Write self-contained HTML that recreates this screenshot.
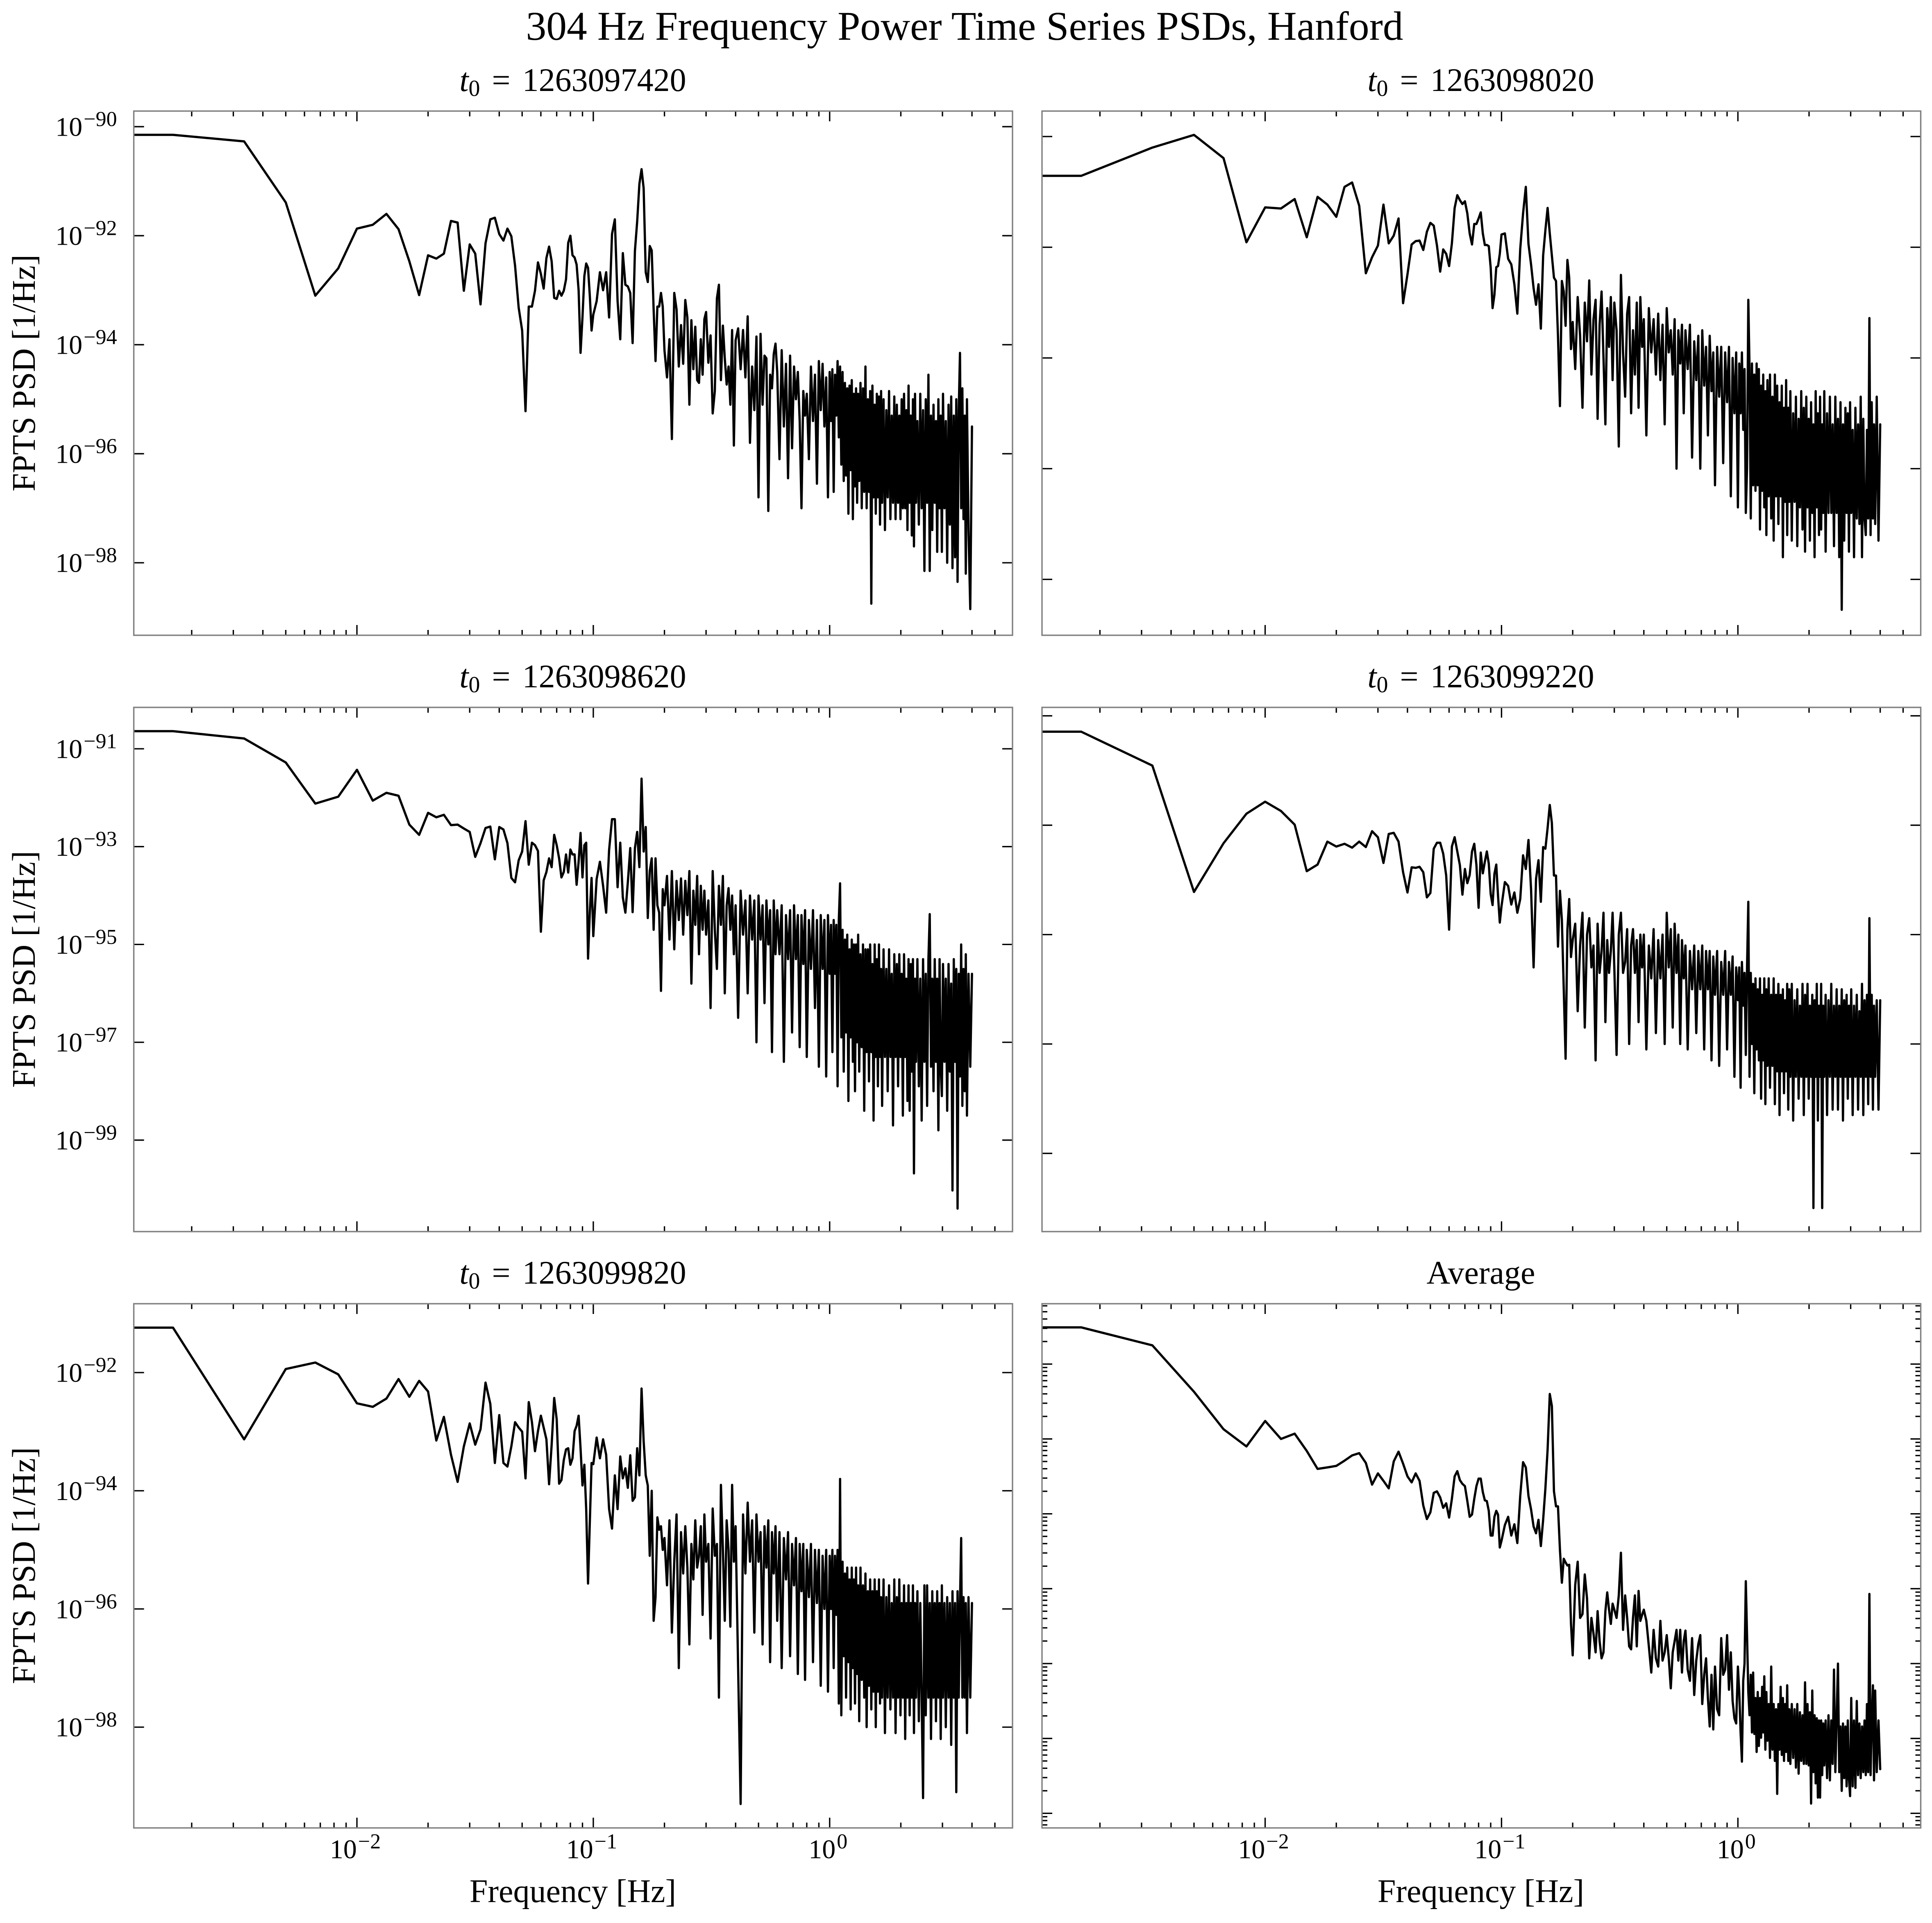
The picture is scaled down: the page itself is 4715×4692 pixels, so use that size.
<!DOCTYPE html>
<html lang="en">
<head>
<meta charset="utf-8">
<title>304 Hz Frequency Power Time Series PSDs, Hanford</title>
<style>
html,body{margin:0;padding:0;background:#fff}
svg{display:block}
text{font-family:"Liberation Serif","DejaVu Serif",serif;fill:#000}
.pt{word-spacing:9px}
</style>
</head>
<body>
<svg id="figure" xmlns="http://www.w3.org/2000/svg" width="4715" height="4692" viewBox="0 0 4715 4692">
<rect x="0" y="0" width="4715" height="4692" fill="#fff"/>
<text x="2354" y="97" font-size="99.6" text-anchor="middle">304 Hz Frequency Power Time Series PSDs, Hanford</text>

<text class="pt" x="1398" y="222" font-size="80" text-anchor="middle" xml:space="preserve"><tspan font-style="italic">t</tspan><tspan font-size="56" dy="12">0</tspan><tspan dy="-12"> = 1263097420</tspan></text>
<text class="pt" x="3614" y="222" font-size="80" text-anchor="middle" xml:space="preserve"><tspan font-style="italic">t</tspan><tspan font-size="56" dy="12">0</tspan><tspan dy="-12"> = 1263098020</tspan></text>
<text class="pt" x="1398" y="1677" font-size="80" text-anchor="middle" xml:space="preserve"><tspan font-style="italic">t</tspan><tspan font-size="56" dy="12">0</tspan><tspan dy="-12"> = 1263098620</tspan></text>
<text class="pt" x="3614" y="1677" font-size="80" text-anchor="middle" xml:space="preserve"><tspan font-style="italic">t</tspan><tspan font-size="56" dy="12">0</tspan><tspan dy="-12"> = 1263099220</tspan></text>
<text class="pt" x="1398" y="3132" font-size="80" text-anchor="middle" xml:space="preserve"><tspan font-style="italic">t</tspan><tspan font-size="56" dy="12">0</tspan><tspan dy="-12"> = 1263099820</tspan></text>
<text x="3614" y="3132" font-size="80" text-anchor="middle">Average</text>

<text transform="translate(85 910) rotate(-90)" font-size="80" text-anchor="middle">FPTS PSD [1/Hz]</text>
<text transform="translate(85 2365) rotate(-90)" font-size="80" text-anchor="middle">FPTS PSD [1/Hz]</text>
<text transform="translate(85 3820) rotate(-90)" font-size="80" text-anchor="middle">FPTS PSD [1/Hz]</text>
<text x="1398" y="4641" font-size="80" text-anchor="middle">Frequency [Hz]</text>
<text x="3614" y="4641" font-size="80" text-anchor="middle">Frequency [Hz]</text>
</svg>
<script>
// Frequency bins (bin number; frequency = bin / segmentSeconds)
const segmentSeconds = 600;
const frequencyBins = [
1,2,3,4,5,6,7,8,9,10,11,12,
13,14,15,16,17,18,19,20,21,22,23,24,
25,26,27,28,29,30,31,32,33,34,35,36,
37,38,39,40,41,42,43,44,45,46,47,48,
49,50,51,52,53,54,55,56,57,58,59,60,
62,64,66,68,70,72,74,76,78,80,82,84,
86,88,90,92,94,96,98,100,102,104,106,108,
110,112,114,116,118,120,123,126,129,132,135,138,
141,144,147,150,153,156,159,162,165,168,171,174,
177,180,184,188,192,196,200,204,208,212,216,220,
224,228,232,236,240,246,252,258,264,270,276,282,
288,294,300,306,312,318,324,330,336,342,348,354,
360,368,376,384,392,400,408,416,424,432,440,448,
456,464,472,480,490,500,510,520,530,540,550,560,
570,580,590,600,608,616,624,632,640,648,656,664,
672,680,688,696,704,712,720,728,736,744,752,760,
768,776,784,792,800,810,820,830,840,850,860,870,
880,890,900,910,920,930,940,950,960,970,980,990,
1000,1014,1028,1042,1056,1070,1084,1098,1112,1126,1140,1154,
1168,1182,1196,1210,1224,1238,1252,1266,1280,1294,1308,1322,
1336,1350,1364,1378,1392,1410,1430,1450,1470,1490,1510,1530,
1550,1570,1590,1610,1630,1650,1670,1690,1710,1730,1750,1770,
1790,1810,1835,1860,1885,1910,1935,1960,1985,2010,2035,2060,
2085,2110,2135,2160,2185,2210,2235,2260,2285,2320,2360,2400];

// log10(PSD) estimates for each panel
const psd1263097420 = [
-90.15,-90.27,-91.39,-93.10,-92.60,-91.87,-91.80,-91.60,-91.88,-92.47,-93.09,-92.36,
-92.42,-92.33,-91.73,-91.76,-93.01,-92.16,-92.33,-93.26,-92.14,-91.70,-91.67,-91.97,
-92.09,-91.87,-92.01,-92.55,-93.32,-93.74,-95.22,-93.30,-93.30,-93.01,-92.49,-92.70,
-92.97,-92.41,-92.20,-92.47,-93.14,-93.16,-93.01,-93.10,-93.01,-92.80,-92.13,-92.00,
-92.36,-92.40,-92.53,-93.0,-94.15,-93.5,-92.74,-92.51,-92.59,-93.1,-93.74,-93.45,
-93.2,-92.67,-93.0,-92.67,-93.5,-91.97,-91.7,-93.2,-93.9,-92.32,-92.9,-92.93,
-93.05,-93.97,-92.28,-91.74,-91.05,-90.78,-91.13,-92.67,-92.85,-92.19,-92.27,-93.36,
-94.3,-93.3,-93.3,-93.05,-93.3,-94.1,-94.6,-93.9,-95.73,-93.05,-93.35,-94.4,
-93.64,-94.35,-93.18,-93.5,-95.1,-93.55,-94.45,-93.67,-94.65,-94.7,-93.9,-94.55,
-93.53,-93.4,-94.33,-93.83,-95.26,-94.85,-93.15,-92.9,-94.65,-93.65,-94.25,-94.73,
-94.4,-95.1,-93.73,-95.85,-93.92,-93.7,-94.45,-93.73,-94.6,-93.48,-95.8,-94.4,
-95.2,-93.85,-96.8,-93.8,-95.1,-94.2,-94.25,-97.05,-94.55,-94.8,-94.17,-93.98,
-94.5,-96.1,-94.1,-95.5,-94.35,-96.45,-94.2,-95.9,-94.4,-95.0,-94.5,-95.4,
-97.0,-94.85,-95.3,-94.9,-96.1,-94.4,-95.4,-94.55,-96.55,-94.3,-95.2,-94.35,
-95.5,-94.6,-96.8,-94.5,-95.4,-94.45,-96.7,-94.55,-95.3,-94.3,-95.7,-94.4,
-96.2,-94.5,-96.5,-94.7,-96.4,-94.8,-97.1,-94.75,-96.3,-94.65,-97.2,-94.9,
-96.6,-94.8,-96.9,-94.9,-96.5,-94.7,-97.0,-94.8,-96.7,-94.4,-97.0,-95.0,
-96.7,-94.85,-98.75,-94.75,-96.8,-95.1,-97.1,-94.9,-96.8,-94.95,-97.3,-94.85,
-96.9,-95.0,-97.4,-95.2,-96.8,-94.85,-97.2,-95.3,-96.9,-94.95,-97.2,-95.1,
-96.9,-95.3,-97.2,-95.0,-97.0,-94.9,-97.0,-95.2,-97.4,-94.75,-96.9,-95.3,
-97.5,-95.0,-97.7,-94.9,-96.9,-95.4,-97.3,-94.9,-97.0,-95.2,-98.15,-95.0,
-96.9,-94.55,-98.15,-95.3,-97.4,-95.1,-96.9,-95.4,-97.8,-95.0,-97.0,-95.3,
-97.8,-94.9,-97.0,-95.4,-98.0,-95.1,-97.3,-94.95,-98.1,-95.3,-97.9,-95.0,
-98.35,-95.2,-94.15,-97.0,-94.8,-97.2,-95.3,-98.2,-95.0,-97.4,-98.85,-95.5];

const psd1263098020 = [
-90.71,-90.2,-89.97,-90.39,-91.91,-91.28,-91.30,-91.13,-91.82,-91.09,-91.23,-91.45,
-90.91,-90.83,-91.25,-92.47,-92.18,-91.97,-91.23,-91.93,-91.79,-91.48,-93.01,-92.49,
-91.95,-91.89,-91.88,-92.05,-91.72,-91.56,-91.61,-91.97,-92.44,-92.04,-92.12,-92.34,
-91.93,-91.29,-91.06,-91.15,-91.22,-91.17,-91.39,-91.75,-91.95,-91.58,-91.58,-91.48,
-91.37,-91.75,-91.96,-91.96,-91.98,-92.37,-93.1,-92.86,-92.36,-92.34,-92.12,-91.77,
-91.75,-92.21,-92.31,-92.67,-93.2,-92.03,-91.39,-90.91,-91.94,-92.31,-92.74,-93.04,
-92.67,-93.47,-92.15,-91.69,-91.29,-91.75,-92.15,-92.55,-92.61,-93.6,-94.87,-92.61,
-92.8,-93.42,-92.23,-92.55,-93.84,-93.35,-94.2,-92.9,-93.6,-94.9,-93.0,-93.7,
-92.6,-94.3,-93.3,-92.95,-95.1,-93.4,-92.8,-94.0,-95.2,-93.1,-93.8,-92.9,
-94.4,-93.0,-93.5,-95.6,-92.5,-93.9,-94.7,-93.2,-92.9,-95.0,-93.5,-94.3,
-93.0,-94.9,-92.9,-93.8,-93.3,-95.4,-93.1,-93.9,-93.3,-94.3,-93.2,-94.4,
-93.4,-95.2,-93.1,-93.9,-93.5,-94.3,-93.3,-96.0,-93.5,-94.1,-93.4,-95.0,
-93.5,-94.2,-93.4,-95.8,-93.7,-94.4,-93.6,-96.0,-93.5,-94.5,-93.8,-95.4,
-93.6,-94.6,-93.9,-96.3,-93.8,-94.7,-93.8,-95.9,-93.9,-94.8,-93.8,-96.5,
-94.0,-95.0,-93.9,-96.7,-94.1,-95.0,-93.9,-95.3,-94.2,-96.8,-96.0,-92.95,
-94.2,-96.9,-94.1,-96.3,-94.3,-96.4,-94.1,-96.3,-94.2,-97.1,-94.5,-96.4,
-94.3,-96.7,-94.6,-97.2,-94.4,-96.5,-94.3,-96.9,-94.7,-97.3,-94.3,-96.5,
-94.5,-97.0,-94.8,-96.5,-94.5,-97.6,-94.9,-96.6,-94.4,-97.2,-94.9,-96.6,
-94.6,-97.3,-95.0,-96.6,-94.7,-97.4,-95.1,-96.7,-94.6,-97.1,-94.9,-97.5,
-94.7,-96.7,-95.1,-97.3,-94.8,-96.8,-95.2,-97.6,-94.6,-96.7,-95.0,-97.2,
-94.7,-97.1,-95.2,-96.8,-94.6,-97.5,-95.0,-96.8,-94.7,-96.8,-95.2,-97.4,
-94.7,-96.8,-95.1,-97.6,-94.8,-98.55,-95.2,-97.3,-94.9,-96.8,-95.0,-97.5,
-94.8,-96.8,-95.3,-97.6,-94.9,-96.9,-95.2,-97.0,-94.7,-97.6,-95.1,-96.9,
-97.2,-95.3,-96.9,-93.28,-97.2,-94.8,-96.9,-95.2,-97.0,-94.7,-97.3,-95.2];

const psd1263098620 = [
-90.64,-90.79,-91.28,-92.12,-91.98,-91.43,-92.06,-91.9,-91.96,-92.55,-92.76,-92.31,
-92.4,-92.35,-92.56,-92.55,-92.63,-92.7,-93.21,-92.93,-92.62,-92.59,-93.26,-92.6,
-92.65,-92.93,-93.64,-93.73,-93.28,-93.1,-92.48,-93.37,-92.92,-92.97,-93.09,-94.74,
-93.69,-93.52,-93.24,-93.42,-92.76,-92.97,-93.24,-93.63,-93.52,-93.16,-93.53,-93.06,
-93.16,-93.16,-93.78,-93.31,-92.72,-93.63,-92.97,-92.92,-95.29,-94.35,-93.64,-94.83,
-93.66,-93.31,-93.8,-94.35,-93.07,-92.44,-92.44,-93.83,-92.92,-94.04,-94.35,-93.73,
-93.03,-94.34,-93.03,-92.7,-93.42,-91.61,-93.1,-92.6,-94.46,-93.5,-93.24,-94.7,
-93.24,-94.2,-94.35,-95.95,-93.87,-94.2,-93.6,-94.9,-93.5,-95.1,-93.7,-94.5,
-93.65,-94.8,-93.7,-94.4,-93.5,-95.8,-93.9,-94.6,-93.6,-95.2,-93.8,-94.7,
-93.9,-94.8,-94.1,-96.3,-93.5,-94.7,-95.5,-93.8,-94.6,-93.6,-96.0,-94.2,
-93.85,-94.7,-94.0,-95.2,-94.2,-96.5,-93.9,-94.8,-94.1,-96.0,-94.0,-94.9,
-94.1,-97.0,-94.0,-94.9,-94.2,-96.2,-94.1,-95.0,-94.3,-97.2,-94.1,-95.2,
-94.3,-95.2,-94.2,-97.4,-94.4,-95.3,-94.3,-96.8,-94.2,-95.3,-94.4,-97.1,
-94.4,-95.4,-94.3,-97.3,-94.5,-95.5,-94.3,-96.3,-94.5,-97.5,-94.4,-95.5,
-94.5,-97.7,-94.4,-95.6,-94.6,-97.2,-94.5,-95.6,-94.6,-97.9,-94.5,-93.75,
-96.9,-94.7,-97.6,-94.9,-96.8,-94.8,-98.2,-95.1,-96.9,-94.9,-97.4,-95.0,
-98.0,-95.0,-97.0,-94.8,-97.6,-95.2,-97.1,-95.0,-98.4,-95.1,-97.2,-95.1,
-97.8,-95.0,-97.2,-95.4,-98.6,-95.0,-97.3,-95.3,-97.9,-95.0,-97.3,-95.5,
-98.3,-95.1,-97.3,-95.5,-98.0,-95.1,-97.3,-95.6,-98.7,-95.2,-97.3,-95.4,
-97.9,-95.2,-97.3,-95.6,-98.5,-95.2,-97.3,-95.7,-98.2,-95.3,-98.4,-95.4,
-97.6,-95.3,-99.68,-95.7,-97.4,-95.3,-97.9,-95.7,-98.6,-95.3,-97.4,-95.6,
-98.3,-95.3,-94.38,-97.5,-95.7,-98.0,-95.3,-97.4,-95.7,-98.8,-95.3,-97.5,
-98.1,-95.4,-97.4,-95.7,-98.4,-95.4,-97.6,-95.8,-100.03,-95.3,-97.4,-95.5,
-100.4,-95.6,-97.7,-95.0,-98.3,-95.5,-98.0,-95.2,-98.5,-95.6,-97.5,-95.6];

const psd1263099220 = [
-91.29,-91.91,-94.22,-93.33,-92.79,-92.57,-92.74,-92.99,-93.84,-93.72,-93.3,-93.39,
-93.34,-93.41,-93.3,-93.4,-93.11,-93.22,-93.69,-93.16,-93.14,-93.3,-93.86,-94.23,
-93.77,-93.78,-93.76,-93.86,-94.32,-94.24,-93.43,-93.32,-93.32,-93.52,-93.92,-94.91,
-93.39,-93.22,-93.48,-93.73,-94.27,-93.8,-94.06,-93.91,-93.48,-93.34,-93.73,-94.51,
-93.5,-93.88,-93.67,-93.48,-93.7,-94.26,-94.46,-93.89,-93.72,-94.29,-94.78,-94.48,
-94.04,-94.11,-94.45,-94.23,-94.6,-94.35,-93.55,-93.8,-93.27,-94.17,-95.6,-93.98,
-93.64,-94.4,-93.4,-93.43,-93.05,-92.63,-92.96,-93.92,-93.92,-95.22,-94.2,-94.73,
-96.0,-97.27,-94.91,-94.35,-95.41,-95.1,-94.8,-96.4,-95.2,-94.6,-96.7,-95.0,
-94.7,-95.6,-95.2,-97.3,-94.8,-95.7,-95.3,-94.6,-96.6,-95.1,-95.7,-95.3,
-94.6,-95.6,-97.2,-95.0,-94.6,-95.7,-95.5,-94.9,-97.0,-95.2,-94.9,-95.7,
-95.1,-96.6,-95.0,-95.6,-95.0,-97.1,-95.2,-95.8,-94.9,-96.8,-95.1,-95.8,
-95.0,-97.0,-94.6,-95.6,-94.9,-96.7,-94.8,-95.7,-95.0,-97.0,-95.1,-95.8,
-95.2,-97.1,-95.3,-96.0,-95.2,-96.8,-95.3,-96.0,-95.2,-97.1,-95.3,-96.0,
-95.3,-97.3,-95.4,-96.1,-95.3,-97.4,-95.5,-96.1,-95.3,-97.1,-95.5,-96.1,
-95.4,-97.6,-95.6,-96.2,-95.6,-97.8,-95.5,-96.3,-95.7,-97.2,-95.6,-94.4,
-97.6,-95.7,-97.0,-95.9,-97.9,-95.8,-97.1,-96.0,-97.3,-95.8,-98.0,-96.1,
-97.3,-95.8,-98.1,-96.0,-97.4,-95.8,-97.8,-96.1,-97.4,-95.8,-98.1,-96.1,
-97.5,-95.9,-98.3,-96.1,-97.5,-96.0,-97.9,-96.2,-97.5,-95.9,-98.2,-96.0,
-97.6,-95.9,-98.4,-96.2,-97.6,-96.0,-98.0,-96.3,-97.6,-95.9,-98.3,-96.1,
-97.6,-95.9,-98.0,-96.3,-97.6,-96.1,-100.0,-96.2,-97.6,-95.9,-98.4,-96.3,
-97.6,-95.9,-100.0,-96.3,-97.6,-96.1,-98.3,-96.2,-97.6,-95.9,-98.2,-96.3,
-97.6,-96.0,-98.2,-96.3,-97.6,-96.0,-98.4,-96.2,-97.6,-96.1,-98.0,-96.3,
-97.6,-96.0,-98.3,-96.3,-97.6,-96.1,-98.2,-96.4,-97.6,-95.9,-98.3,-96.2,
-97.6,-96.1,-98.1,-94.7,-97.6,-96.1,-98.2,-96.3,-97.6,-96.2,-98.2,-96.2];

const psd1263099820 = [
-91.24,-93.13,-91.94,-91.83,-92.03,-92.52,-92.58,-92.44,-92.11,-92.41,-92.14,-92.32,
-93.15,-92.75,-93.39,-93.85,-93.25,-92.86,-93.22,-92.96,-92.17,-92.53,-93.53,-92.72,
-93.53,-93.59,-93.25,-92.84,-92.93,-93.0,-93.79,-92.5,-92.84,-93.33,-92.99,-92.73,
-92.93,-93.13,-93.89,-93.22,-92.43,-92.79,-93.88,-93.82,-93.48,-93.3,-93.28,-93.56,
-93.45,-92.99,-92.9,-92.73,-93.28,-93.91,-93.56,-94.31,-95.57,-94.54,-93.53,-93.55,
-93.1,-93.45,-93.13,-93.39,-94.31,-94.64,-93.74,-94.31,-93.42,-93.79,-93.62,-93.95,
-93.4,-94.17,-94.11,-93.28,-93.74,-92.27,-93.16,-93.74,-93.91,-95.1,-94.0,-96.2,
-95.8,-94.45,-94.66,-94.6,-95.0,-94.8,-95.6,-94.5,-96.4,-95.2,-94.4,-97.0,
-94.7,-95.4,-94.6,-95.3,-96.6,-94.9,-95.5,-94.5,-95.3,-95.1,-94.6,-96.1,
-94.4,-95.2,-94.9,-96.5,-94.3,-95.1,-94.9,-97.5,-93.9,-95.0,-96.2,-94.5,
-95.0,-96.3,-93.9,-95.2,-94.6,-97.0,-99.3,-94.4,-95.4,-94.2,-95.2,-94.5,
-96.4,-94.4,-95.2,-94.7,-96.6,-94.6,-95.3,-94.5,-96.9,-94.7,-95.4,-94.6,
-96.2,-94.7,-97.0,-94.8,-95.5,-94.7,-96.8,-94.9,-95.6,-94.8,-97.1,-94.9,
-95.7,-94.9,-97.2,-95.0,-95.8,-94.9,-96.9,-95.0,-95.9,-95.0,-97.3,-95.1,
-96.0,-95.0,-97.4,-95.1,-96.0,-95.0,-97.0,-95.1,-96.1,-95.0,-97.6,-93.8,
-97.8,-95.2,-96.8,-95.4,-97.5,-95.3,-96.9,-95.5,-97.7,-95.3,-97.0,-95.5,
-97.6,-95.3,-97.1,-95.6,-97.9,-95.3,-97.2,-95.6,-97.5,-95.4,-98.0,-95.7,
-97.3,-95.5,-97.7,-95.7,-97.4,-95.5,-98.0,-95.7,-97.4,-95.5,-97.6,-95.8,
-97.5,-95.5,-98.1,-95.8,-97.5,-95.6,-97.7,-95.9,-97.5,-95.5,-98.1,-95.8,
-97.5,-95.5,-97.8,-95.9,-97.5,-95.6,-98.2,-95.9,-97.5,-95.6,-97.8,-95.9,
-97.5,-95.6,-98.1,-95.9,-97.5,-95.7,-97.9,-95.9,-97.5,-99.2,-95.6,-97.8,
-95.6,-97.5,-95.9,-98.2,-95.7,-97.5,-95.9,-97.9,-95.7,-97.5,-95.9,-98.2,
-95.6,-97.5,-95.9,-98.0,-95.8,-97.5,-95.9,-98.3,-95.7,-97.5,-95.9,-99.1,
-95.7,-97.5,-95.9,-94.8,-97.5,-95.8,-97.5,-95.9,-98.1,-95.8,-97.5,-95.9];

const psdAverage = [
-90.51,-90.75,-91.37,-91.87,-92.1,-91.76,-92.0,-91.93,-92.16,-92.4,-92.38,-92.36,
-92.29,-92.22,-92.19,-92.32,-92.61,-92.46,-92.56,-92.66,-92.3,-92.17,-92.33,-92.5,
-92.58,-92.46,-92.56,-92.89,-93.07,-92.98,-92.72,-92.7,-92.78,-92.92,-92.86,-93.05,
-92.8,-92.5,-92.43,-92.55,-92.6,-92.63,-92.83,-93.04,-93.01,-92.8,-92.63,-92.53,
-92.53,-92.71,-92.82,-92.83,-92.96,-93.29,-93.29,-93.04,-92.96,-93.01,-93.45,-93.36,
-93.15,-93.04,-93.29,-93.14,-93.39,-92.76,-92.31,-92.38,-92.76,-92.94,-93.17,-93.26,
-93.08,-93.43,-93.08,-92.66,-92.14,-91.4,-91.56,-92.7,-92.9,-92.9,-93.48,-93.92,
-93.6,-93.65,-93.69,-93.68,-94.46,-94.89,-93.95,-93.64,-94.39,-94.34,-93.81,-94.13,
-94.93,-94.39,-94.6,-94.85,-94.3,-94.7,-94.93,-94.85,-94.3,-94.05,-94.28,-94.47,
-94.2,-94.28,-94.39,-94.09,-93.52,-94.55,-94.09,-94.39,-94.77,-94.81,-94.39,-94.09,
-94.77,-94.03,-94.43,-94.35,-94.28,-94.43,-94.77,-95.12,-94.55,-94.93,-95.04,-94.43,
-94.96,-94.85,-94.62,-94.93,-95.33,-94.85,-94.7,-94.55,-94.96,-94.55,-95.12,-94.7,
-94.56,-95.08,-95.23,-94.66,-95.42,-94.96,-94.74,-94.62,-95.54,-95.15,-94.93,-95.46,
-95.84,-95.15,-95.88,-95.04,-95.61,-95.69,-94.66,-95.15,-95.08,-94.62,-95.35,-94.85,
-95.5,-95.73,-95.8,-95.04,-95.38,-95.92,-96.31,-95.23,-95.0,-93.9,-94.62,-95.38,
-95.69,-95.15,-95.92,-95.12,-95.94,-95.46,-96.18,-95.38,-96.1,-95.46,-95.99,-95.31,
-95.92,-95.17,-96.15,-95.38,-96.03,-95.54,-96.26,-95.04,-96.15,-95.54,-96.3,-95.61,
-96.74,-95.54,-96.15,-95.31,-96.22,-95.46,-96.3,-95.54,-96.18,-95.29,-96.3,-95.61,
-96.34,-95.54,-96.26,-95.61,-96.39,-95.54,-96.47,-95.65,-96.3,-95.69,-96.34,-95.25,
-96.34,-95.54,-96.36,-95.65,-96.87,-95.36,-96.45,-95.69,-96.6,-95.73,-96.79,-95.76,
-96.79,-95.76,-96.49,-95.8,-96.36,-95.76,-96.53,-95.69,-96.56,-95.76,-96.34,-95.08,
-96.45,-95.73,-95.0,-96.45,-95.84,-96.7,-95.8,-96.53,-95.84,-96.64,-95.76,-96.53,
-96.77,-95.46,-96.64,-95.76,-96.66,-95.5,-96.49,-95.8,-96.53,-95.84,-96.45,-95.76,
-96.49,-95.54,-96.45,-94.07,-96.49,-95.76,-95.29,-96.56,-95.36,-96.45,-95.76,-96.41];

// Axis tick data
const xLimitsExp = [-2.944, 0.7735];
const xMajorExp = [-2, -1, 0];
const xMinorDecades = [-3, -2, -1, 0];
const minorMultipliers = [2, 3, 4, 5, 6, 7, 8, 9];
const yTicks1263097420 = [-90, -92, -94, -96, -98];
const yTicks1263098020 = [-90, -92, -94, -96, -98];
const yTicks1263098620 = [-91, -93, -95, -97, -99];
const yTicks1263099220 = [-91, -93, -95, -97, -99];
const yTicks1263099820 = [-92, -94, -96, -98];
const yTicksAverage = [-91, -92, -93, -94, -95, -96, -97];
const yMinorDecadesAverage = [-98, -97, -96, -95, -94, -93, -92, -91];

const SVG_NS = 'http://www.w3.org/2000/svg';
const figure = document.getElementById('figure');

function makeEl(tag, parent) {
  const el = document.createElementNS(SVG_NS, tag);
  parent.appendChild(el);
  return el;
}

function drawTick(parent, x1, y1, x2, y2, kind) {
  const tick = makeEl('line', parent);
  
  
  tick.setAttribute('x1', x1);
  tick.setAttribute('y1', y1);
  tick.setAttribute('x2', x2);
  tick.setAttribute('y2', y2);
  tick.setAttribute('stroke', '#000');
  tick.setAttribute('stroke-width', '3.3');
}

function drawPowerLabel(parent, x, y, anchor, exp, kind) {
  const label = makeEl('text', parent);
  
  
  label.setAttribute('x', x);
  label.setAttribute('y', y);
  label.setAttribute('font-size', '66');
  label.setAttribute('text-anchor', anchor);
  const base = makeEl('tspan', label);
  base.textContent = '10';
  const sup = makeEl('tspan', label);
  sup.setAttribute('font-size', '52');
  sup.setAttribute('dy', '-24');
  sup.setAttribute('dx', '3');
  sup.textContent = String(exp).replace('-', '\u2212');
}

function drawPanel(cfg) {
  const W = 2144.5, H = 1279;
  const left = cfg.left, top = cfg.top;
  const xScale = function (logF) {
    return left + (logF - xLimitsExp[0]) / (xLimitsExp[1] - xLimitsExp[0]) * W;
  };
  const yScale = function (logP) {
    return top + (cfg.yTop - logP) / (cfg.yTop - cfg.yBottom) * H;
  };

  const g = makeEl('g', figure);
  
  

  const clip = makeEl('clipPath', g);
  clip.setAttribute('id', 'clip-' + cfg.name);
  const clipRect = makeEl('rect', clip);
  clipRect.setAttribute('x', left);
  clipRect.setAttribute('y', top);
  clipRect.setAttribute('width', W);
  clipRect.setAttribute('height', H);

  let d = 'M' + left + ' ' + yScale(cfg.series[0]).toFixed(1);
  for (let i = 0; i < cfg.series.length && i < frequencyBins.length; i++) {
    const px = xScale(Math.log10(frequencyBins[i] / segmentSeconds));
    const py = yScale(cfg.series[i]);
    d += 'L' + px.toFixed(1) + ' ' + py.toFixed(1);
  }
  const line = makeEl('path', g);
  
  
  line.setAttribute('d', d);
  line.setAttribute('fill', 'none');
  line.setAttribute('stroke', '#000');
  line.setAttribute('stroke-width', '5.5');
  line.setAttribute('stroke-linejoin', 'round');
  line.setAttribute('stroke-linecap', 'round');
  line.setAttribute('clip-path', 'url(#clip-' + cfg.name + ')');

  const right = left + W, bottom = top + H;

  xMajorExp.forEach(function (e) {
    const x = xScale(e);
    drawTick(g, x, top, x, top + 25, 'x-major-tick-top');
    drawTick(g, x, bottom, x, bottom - 25, 'x-major-tick-bottom');
    if (cfg.xLabels) {
      drawPowerLabel(g, x - 4, 4534, 'middle', e, 'x-tick-label');
    }
  });
  xMinorDecades.forEach(function (dec) {
    minorMultipliers.forEach(function (m) {
      const lf = dec + Math.log10(m);
      if (lf < xLimitsExp[0] || lf > xLimitsExp[1]) return;
      const x = xScale(lf);
      drawTick(g, x, top, x, top + 13, 'x-minor-tick-top');
      drawTick(g, x, bottom, x, bottom - 13, 'x-minor-tick-bottom');
    });
  });

  cfg.yTicks.forEach(function (e) {
    const y = yScale(e);
    drawTick(g, left, y, left + 25, y, 'y-major-tick-left');
    drawTick(g, right, y, right - 25, y, 'y-major-tick-right');
    if (cfg.yLabels) {
      drawPowerLabel(g, left - 41, y + 22.5, 'end', e, 'y-tick-label');
    }
  });
  (cfg.yMinorDecades || []).forEach(function (dec) {
    minorMultipliers.forEach(function (m) {
      const lf = dec + Math.log10(m);
      if (lf > cfg.yTop || lf < cfg.yBottom) return;
      const y = yScale(lf);
      drawTick(g, left, y, left + 13, y, 'y-minor-tick-left');
      drawTick(g, right, y, right - 13, y, 'y-minor-tick-right');
    });
  });

  const frame = makeEl('rect', g);
  
  
  frame.setAttribute('x', left);
  frame.setAttribute('y', top);
  frame.setAttribute('width', W);
  frame.setAttribute('height', H);
  frame.setAttribute('fill', 'none');
  frame.setAttribute('stroke', '#808080');
  frame.setAttribute('stroke-width', '3.4');
}

drawPanel({name: 'panel-1263097420', left: 326.5, top: 271, yTop: -89.714, yBottom: -99.33, series: psd1263097420, yTicks: yTicks1263097420, yLabels: true, xLabels: false});
drawPanel({name: 'panel-1263098020', left: 2543, top: 271, yTop: -89.54, yBottom: -99.01, series: psd1263098020, yTicks: yTicks1263098020, yLabels: false, xLabels: false});
drawPanel({name: 'panel-1263098620', left: 326.5, top: 1726, yTop: -90.154, yBottom: -100.87, series: psd1263098620, yTicks: yTicks1263098620, yLabels: true, xLabels: false});
drawPanel({name: 'panel-1263099220', left: 2543, top: 1726, yTop: -90.846, yBottom: -100.43, series: psd1263099220, yTicks: yTicks1263099220, yLabels: false, xLabels: false});
drawPanel({name: 'panel-1263099820', left: 326.5, top: 3181, yTop: -90.835, yBottom: -99.705, series: psd1263099820, yTicks: yTicks1263099820, yLabels: true, xLabels: true});
drawPanel({name: 'panel-average', left: 2543, top: 3181, yTop: -90.194, yBottom: -97.195, series: psdAverage, yTicks: yTicksAverage, yMinorDecades: yMinorDecadesAverage, yLabels: false, xLabels: true});
</script>
</body>
</html>
